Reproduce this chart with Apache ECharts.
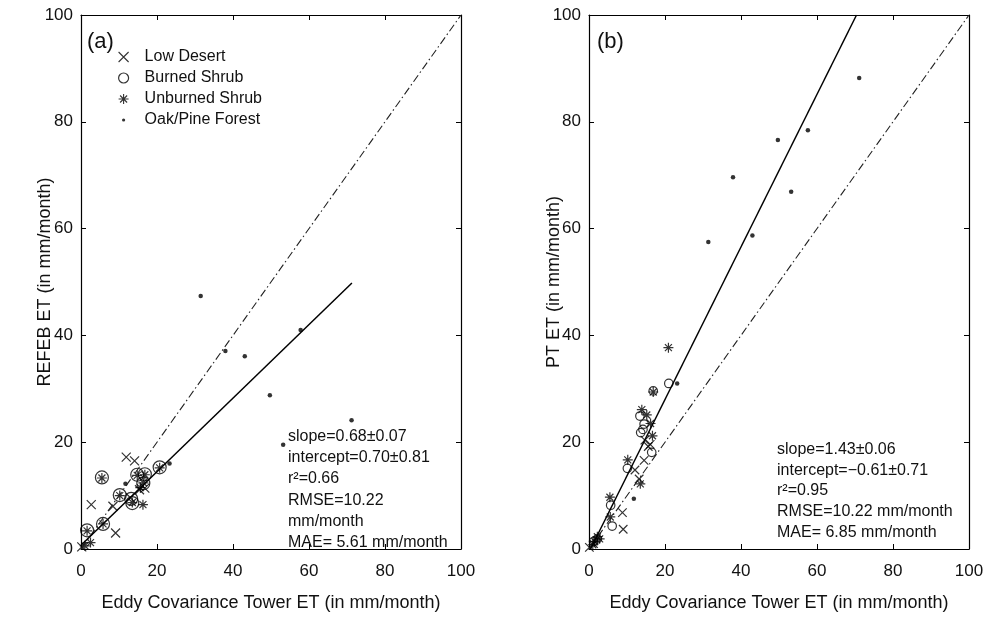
<!DOCTYPE html>
<html>
<head>
<meta charset="utf-8">
<script src="https://cdn.jsdelivr.net/npm/echarts@6/dist/echarts.min.js"></script>
<style>html,body{margin:0;padding:0;background:#fff}#c{width:987px;height:617px}</style>
</head>
<body>
<div id="c"></div>
<script>
// ---- data ----
const TICKS = [0, 20, 40, 60, 80, 100];
const SERIES_NAMES = ['Low Desert', 'Burned Shrub', 'Unburned Shrub', 'Oak/Pine Forest'];

const LOW_A = [[0.2,0.4],[2.7,8.3],[9.1,3.0],[8.4,8.0],[11.9,17.2],[14.1,16.5],[15.4,11.1],[13.0,9.6],[16.8,11.4]];
const BURN_A = [[1.6,3.5],[5.5,13.4],[5.8,4.7],[10.2,10.1],[13.5,8.6],[14.8,13.9],[16.8,14.0],[16.4,12.3],[20.7,15.3],[13.2,9.4]];
const UNBURN_A = [[1.6,3.4],[5.5,13.3],[5.8,4.7],[10.2,10.0],[13.5,8.7],[14.8,13.8],[16.8,13.9],[16.4,12.4],[20.7,15.2],[16.3,8.3],[2.5,1.2],[1.0,0.6],[15.6,11.5]];
const OAK_A = [[11.7,12.2],[23.3,16.0],[31.5,47.4],[38.0,37.1],[43.1,36.1],[49.7,28.8],[53.2,19.5],[57.8,41.0],[71.2,24.1]];

const LOW_B = [[0.1,0.3],[9.0,3.7],[8.8,6.8],[12.1,14.8],[13.2,13.1],[14.5,16.6],[14.7,20.4],[15.6,19.2],[16.1,19.6],[1.2,1.0]];
const BURN_B = [[6.1,4.3],[5.7,8.2],[10.1,15.1],[13.6,21.8],[14.2,22.4],[14.5,23.4],[13.4,24.9],[16.5,18.1],[16.9,29.6],[21.0,31.0],[1.2,1.4],[2.2,1.9]];
const UNBURN_B = [[5.5,9.7],[5.6,6.0],[10.2,16.7],[13.5,12.2],[13.9,26.1],[15.2,25.1],[16.2,23.5],[16.7,21.2],[16.9,29.4],[20.9,37.7],[1.5,1.4],[2.2,2.3],[2.8,1.9],[1.0,0.8]];
const OAK_B = [[11.8,9.4],[23.2,31.0],[31.4,57.5],[37.9,69.6],[43.0,58.7],[49.7,76.6],[53.2,66.9],[57.6,78.4],[71.1,88.2]];

const ONE_TO_ONE = [[0,0],[100,100]];
const FIT_A = [[0,0.7],[71.3,49.8]];
const FIT_B = [[0.4,0],[70.4,100]];

const STATS_A = ['slope=0.68±0.07','intercept=0.70±0.81','r²=0.66','RMSE=10.22','mm/month','MAE= 5.61 mm/month'];
const STATS_B = ['slope=1.43±0.06','intercept=−0.61±0.71','r²=0.95','RMSE=10.22 mm/month','MAE= 6.85 mm/month'];

const X_NAME = 'Eddy Covariance Tower ET (in mm/month)';
const Y_NAME_A = 'REFEB ET (in mm/month)';
const Y_NAME_B = 'PT ET (in mm/month)';

// ---- styling ----
const FONT = "'Liberation Sans', Arial, Helvetica, sans-serif";
const INK = '#000';
const X_PATH = 'path://M0,0L10,10M10,0L0,10';
const AST_PATH = 'path://M5,0L5,10M0,5L10,5M1.5,1.5L8.5,8.5M8.5,1.5L1.5,8.5';
const DOT_ICON = 'path://M0,0M10,10M3.4,5A1.6,1.6,0,1,1,6.6,5A1.6,1.6,0,1,1,3.4,5Z';

const chart = echarts.init(document.getElementById('c'), null, {renderer: 'canvas'});

function axisBase(gi) {
  return {gridIndex: gi, type: 'value', min: TICKS[0], max: TICKS[TICKS.length-1], interval: TICKS[1]-TICKS[0],
    nameMoveOverlap: false,
    splitLine: {show: false}, axisLine: {show: true, onZero: false, lineStyle: {color: INK, width: 1.2}},
    axisTick: {show: true, inside: true, length: 5, lineStyle: {color: INK, width: 1}}};
}
function xAxes(gi) {
  return [
    Object.assign(axisBase(gi), {position: 'bottom', name: X_NAME, nameLocation: 'middle', nameGap: 45,
      nameTextStyle: {fontFamily: FONT, fontSize: 18, color: '#111'},
      axisLabel: {margin: 14, fontFamily: FONT, fontSize: 17, color: '#111'}}),
    Object.assign(axisBase(gi), {position: 'top', axisLabel: {show: false}})
  ];
}
function yAxes(gi, name, gap) {
  return [
    Object.assign(axisBase(gi), {position: 'left', name: name, nameLocation: 'middle', nameGap: gap,
      nameTextStyle: {fontFamily: FONT, fontSize: 18, color: '#111'},
      axisLabel: {margin: 8, fontFamily: FONT, fontSize: 17, color: '#111'}}),
    Object.assign(axisBase(gi), {position: 'right', axisLabel: {show: false}})
  ];
}

function panelSeries(gi, low, burn, unburn, oak, fit, sz) {
  const xi = gi * 2, yi = gi * 2;
  const common = {xAxisIndex: xi, yAxisIndex: yi, silent: true, animation: false};
  const open = {color: 'transparent', borderColor: INK, borderWidth: 1.2};
  return [
    Object.assign({}, common, {type: 'line', name: '1:1', data: ONE_TO_ONE, symbol: 'none',
      lineStyle: {color: '#222', width: 1.1, type: [8, 3, 1.5, 3]}}),
    Object.assign({}, common, {type: 'line', name: 'fit', data: fit, symbol: 'none',
      lineStyle: {color: INK, width: 1.5}}),
    Object.assign({}, common, {type: 'scatter', name: SERIES_NAMES[1], data: burn, symbol: 'circle', symbolSize: sz.circle,
      itemStyle: open}),
    Object.assign({}, common, {type: 'scatter', name: SERIES_NAMES[2], data: unburn, symbol: AST_PATH, symbolSize: sz.ast,
      itemStyle: open}),
    Object.assign({}, common, {type: 'scatter', name: SERIES_NAMES[0], data: low, symbol: X_PATH, symbolSize: sz.x,
      itemStyle: open}),
    Object.assign({}, common, {type: 'scatter', name: SERIES_NAMES[3], data: oak, symbol: 'circle', symbolSize: 4.5,
      itemStyle: {color: INK}})
  ];
}

const option = {
  animation: false,
  backgroundColor: '#fff',
  grid: [
    {left: 81, right: 526, top: 15, bottom: 66, containLabel: false},
    {left: 589, right: 18, top: 15, bottom: 66, containLabel: false}
  ],
  xAxis: [...xAxes(0), ...xAxes(1)],
  yAxis: [...yAxes(0, Y_NAME_A, 27), ...yAxes(1, Y_NAME_B, 26)],
  legend: {
    orient: 'vertical', left: 113, top: 44, itemWidth: 32, itemHeight: 10, itemGap: 5,
    selectedMode: false, textStyle: {fontFamily: FONT, fontSize: 16, color: '#111', lineHeight: 16},
    data: [
      {name: SERIES_NAMES[0], icon: X_PATH, itemStyle: {color: 'transparent', borderColor: INK, borderWidth: 1.1}},
      {name: SERIES_NAMES[1], icon: 'circle', itemStyle: {color: 'transparent', borderColor: INK, borderWidth: 1.2}},
      {name: SERIES_NAMES[2], icon: AST_PATH, itemStyle: {color: 'transparent', borderColor: INK, borderWidth: 1.1}},
      {name: SERIES_NAMES[3], icon: DOT_ICON, itemStyle: {color: INK, borderWidth: 0}}
    ]
  },
  graphic: [
    {type: 'text', left: 87, top: 31, style: {text: '(a)', font: '22px ' + FONT, fill: '#111'}},
    {type: 'text', left: 597, top: 31, style: {text: '(b)', font: '22px ' + FONT, fill: '#111'}},
    {type: 'text', left: 288, top: 426, style: {text: STATS_A.join('\n'), font: '16px ' + FONT, lineHeight: 21.2, fill: '#111'}},
    {type: 'text', left: 777, top: 439, style: {text: STATS_B.join('\n'), font: '16px ' + FONT, lineHeight: 20.8, fill: '#111'}}
  ],
  series: [
    ...panelSeries(0, LOW_A, BURN_A, UNBURN_A, OAK_A, FIT_A, {circle: 13, ast: 10, x: 9}),
    ...panelSeries(1, LOW_B, BURN_B, UNBURN_B, OAK_B, FIT_B, {circle: 8.5, ast: 10, x: 8.5})
  ]
};
chart.setOption(option);
</script>
</body>
</html>
